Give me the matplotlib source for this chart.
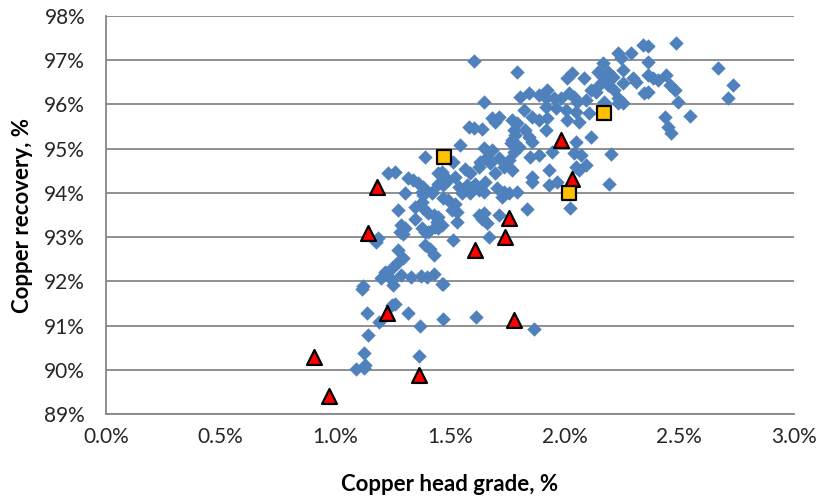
import matplotlib.pyplot as plt
from matplotlib.ticker import PercentFormatter, MultipleLocator

# plant survey: head grade (%Cu) vs copper recovery (%)
survey_grade = [
    1.09, 1.125, 1.13, 1.127, 1.145, 1.14, 1.118, 1.193, 1.25, 1.263, 1.316, 1.368, 1.364,
    1.469, 1.614, 1.469, 1.868,
    1.202, 1.224, 1.246, 1.254, 1.289, 1.329, 1.373, 1.399, 1.43,
    1.231, 1.26, 1.319, 1.341, 1.362, 1.385, 1.392, 1.377, 1.421, 1.45, 1.465, 1.479, 1.494,
    1.45, 1.472, 1.304, 1.385, 1.421, 1.377, 1.348, 1.385, 1.472, 1.494, 1.272, 1.348, 1.406,
    1.429, 1.45, 1.443, 1.465, 1.436, 1.45, 1.406, 1.289, 1.304, 1.282, 1.297, 1.377, 1.392,
    1.187, 1.18, 1.392, 1.414, 1.429, 1.275, 1.297, 1.268, 1.253, 1.216, 1.465, 1.121, 1.392,
    1.538, 1.575, 1.611, 1.655, 1.553, 1.589, 1.626, 1.648, 1.706, 1.735, 1.757, 1.794, 1.86,
    1.933, 1.523, 1.509, 1.531, 1.728, 1.838, 1.626, 1.648, 1.64, 1.662, 1.714, 1.531, 1.67,
    1.516,
    1.794, 1.648, 1.684, 1.699, 1.714, 1.582, 1.604, 1.64, 1.545, 1.772, 1.794, 1.779, 1.786,
    1.772, 1.801, 1.779, 1.765, 1.808, 1.845, 1.889, 1.918, 1.823, 1.86, 1.889, 1.845, 1.86,
    1.83, 1.648, 1.684, 1.662, 1.633, 1.677, 1.714, 1.757, 1.735, 1.772, 1.86, 1.933, 1.852,
    1.889, 1.567, 1.589, 1.626, 1.523, 1.699, 1.605, 1.516,
    2.232, 2.247, 2.167, 2.189, 2.145, 2.211, 2.167, 2.035, 2.013, 2.086, 1.925, 1.955, 1.984,
    2.021, 2.042, 2.057, 2.094, 2.138, 2.152, 2.115, 2.189, 2.218, 2.232, 2.174, 1.918, 1.962,
    2.006, 2.05, 2.013, 2.064, 2.108, 1.925, 2.232, 1.918, 2.115, 2.05, 2.254,
    2.342, 2.364, 2.488, 2.291, 2.364, 2.671, 2.298, 2.313, 2.364, 2.386, 2.408, 2.444, 2.459,
    2.481, 2.364, 2.349, 2.737, 2.715, 2.496, 2.547, 2.437, 2.452, 2.466, 2.254, 2.254,
    1.947, 2.042, 2.072, 2.203, 2.05, 2.094, 2.064, 2.193, 1.969, 2.023,
]
survey_recovery = [
    90.02, 90.05, 90.1, 90.38, 90.78, 91.28, 91.82, 91.08, 91.46, 91.5, 91.28, 91.0, 90.31,
    91.15, 91.2, 91.94, 90.92,
    92.07, 92.2, 92.03, 91.91, 92.14, 92.1, 92.12, 92.1, 92.16,
    94.45, 94.48, 94.33, 94.29, 94.23, 94.14, 94.06, 94.03, 94.03, 94.44, 94.48, 94.36, 94.29,
    94.21, 94.18, 93.99, 93.95, 93.99, 93.8, 93.69, 93.65, 93.88, 93.84, 93.61, 93.42, 93.54,
    93.5, 93.46, 93.35, 93.27, 93.23, 93.2, 93.12, 93.27, 93.2, 93.12, 93.08, 93.2, 93.12,
    92.97, 92.89, 92.82, 92.74, 92.59, 92.71, 92.52, 92.41, 92.33, 92.21, 91.95, 91.89, 94.82,
    94.14, 94.18, 94.21, 94.25, 93.99, 93.99, 94.06, 94.03, 94.1, 94.03, 93.99, 94.03, 94.25,
    94.18, 93.76, 93.61, 93.57, 93.91, 93.63, 93.5, 93.54, 93.42, 93.31, 93.5, 93.35, 93.01,
    92.93,
    96.74, 96.05, 95.69, 95.61, 95.72, 95.5, 95.46, 95.44, 95.08, 95.65, 95.57, 95.42, 95.31,
    95.19, 95.04, 94.93, 95.12, 96.17, 96.25, 96.21, 96.14, 95.87, 95.72, 95.65, 95.27, 95.16,
    95.42, 95.01, 94.97, 94.82, 94.7, 94.67, 94.78, 94.74, 94.59, 94.52, 94.37, 94.52, 94.82,
    94.86, 94.55, 94.44, 94.59, 94.36, 94.44, 96.98, 94.7,
    97.16, 97.04, 96.93, 96.74, 96.74, 96.63, 96.63, 96.7, 96.59, 96.59, 96.33, 96.14, 96.14,
    96.25, 96.17, 96.06, 96.1, 96.29, 96.44, 96.33, 96.44, 96.33, 96.14, 96.06, 95.95, 95.91,
    95.87, 95.83, 95.65, 95.61, 95.8, 95.69, 96.02, 95.42, 95.27, 95.16, 96.78,
    97.34, 97.31, 97.38, 97.16, 96.95, 96.83, 96.59, 96.51, 96.67, 96.59, 96.55, 96.67, 96.44,
    96.33, 96.29, 96.25, 96.44, 96.14, 96.06, 95.74, 95.71, 95.5, 95.35, 96.48, 96.03,
    94.93, 94.9, 94.86, 94.88, 94.59, 94.63, 94.52, 94.19, 94.25, 93.65,
]

# red triangles
tri_grade = [0.908, 0.974, 1.184, 1.145, 1.228, 1.364, 1.610, 1.741, 1.757, 1.987, 2.032, 1.781]
tri_recovery = [90.29, 89.42, 94.13, 93.10, 91.28, 89.88, 92.70, 93.00, 93.43, 95.20, 94.32, 91.12]

# yellow squares
sq_grade = [1.476, 2.171, 2.020]
sq_recovery = [94.80, 95.81, 94.00]

fig = plt.figure(figsize=(8.19, 4.96), dpi=100)
ax = fig.add_axes([0.1294, 0.165, 0.8396, 0.803])

grid_col = '#878787'
ax.scatter(survey_grade, survey_recovery, marker='D', s=54, color='#4F81BD',
           linewidths=0, zorder=3)
ax.scatter(tri_grade, tri_recovery, marker='^', s=115, color='#FF0000',
           edgecolors='black', linewidths=1.6, zorder=4)
ax.scatter(sq_grade, sq_recovery, marker='s', s=100, color='#FFC000',
           edgecolors='black', linewidths=1.6, zorder=5)

ax.set_xlim(0, 3)
ax.set_ylim(89, 98)
ax.xaxis.set_major_locator(MultipleLocator(0.5))
ax.yaxis.set_major_locator(MultipleLocator(1))
ax.xaxis.set_major_formatter(PercentFormatter(decimals=1))
ax.yaxis.set_major_formatter(PercentFormatter(decimals=0))

ax.grid(axis='y', color=grid_col, linewidth=1.3)
ax.set_axisbelow(True)
for side in ['top', 'right']:
    ax.spines[side].set_visible(False)
for side in ['left', 'bottom']:
    ax.spines[side].set_color(grid_col)
    ax.spines[side].set_linewidth(1.3)

ax.tick_params(axis='both', length=0, labelsize=15, colors='#262626')
ax.tick_params(axis='y', pad=15)
ax.tick_params(axis='x', pad=9)
for lab in ax.get_xticklabels() + ax.get_yticklabels():
    lab.set_family('Lato')

ax.set_xlabel('Copper head grade, %', fontsize=16, fontweight='bold', family='Lato',
              labelpad=20)
ax.set_ylabel('Copper recovery, %', fontsize=16, fontweight='bold', family='Lato',
              labelpad=8)

fig.savefig('out.png', dpi=100)
